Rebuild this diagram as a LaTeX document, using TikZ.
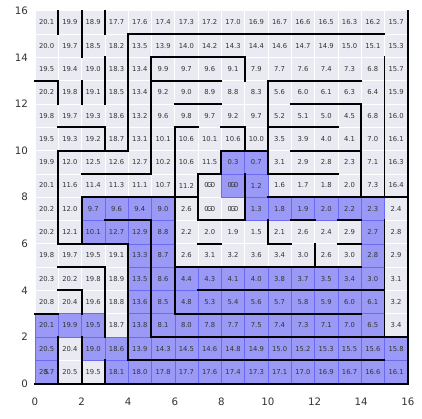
\documentclass[tikz,border=0pt]{standalone}
\usepackage{fontspec}
\setmainfont{DejaVu Sans}
\definecolor{cellgray}{HTML}{EAEAF2}
\definecolor{pathblue}{HTML}{9A9AF6}
\definecolor{pathedge}{HTML}{6A6AF4}
\definecolor{numgray}{HTML}{333333}
\begin{document}
\begin{tikzpicture}[x=1cm,y=1cm,
    cell/.style={draw=white, line width=0.8pt, fill=cellgray},
    pathcell/.style={draw=pathedge, line width=0.5pt, fill=pathblue},
    val/.style={font=\fontsize{8.3}{9}\selectfont, text=numgray, inner sep=0pt},
    wall/.style={line width=2.4pt, line cap=rect},
    ticklab/.style={font=\fontsize{12.5}{14}\selectfont, text=numgray, inner sep=0pt}]
  \useasboundingbox (-1.50,-1.48) rectangle (16.61,16.46);
  % cells
  \foreach \i in {0,...,15}
    \foreach \j in {0,...,15}
      \draw[cell] (\i,\j) rectangle ++(1,1);
  % path
  \foreach \i/\j in {8/9,9/9,8/8,9/8,
      2/7,3/7,4/7,5/7,9/7,10/7,11/7,12/7,13/7,14/7,
      2/6,3/6,4/6,5/6,14/6, 4/5,5/5,14/5,
      4/4,5/4,6/4,7/4,8/4,9/4,10/4,11/4,12/4,13/4,14/4,
      4/3,5/3,6/3,7/3,8/3,9/3,10/3,11/3,12/3,13/3,14/3,
      0/2,1/2,2/2,4/2,5/2,6/2,7/2,8/2,9/2,10/2,11/2,12/2,13/2,14/2,
      0/1,2/1,3/1,4/1,5/1,6/1,7/1,8/1,9/1,10/1,11/1,12/1,13/1,14/1,15/1,
      0/0,3/0,4/0,5/0,6/0,7/0,8/0,9/0,10/0,11/0,12/0,13/0,14/0,15/0}
    \draw[pathcell] (\i,\j) rectangle ++(1,1);
  % values, bottom row first
  \foreach \row [count=\j from 0] in {
      {20.7,20.5,19.5,18.1,18.0,17.8,17.7,17.6,17.4,17.3,17.1,17.0,16.9,16.7,16.6,16.1},
      {20.5,20.4,19.0,18.6,13.9,14.3,14.5,14.6,14.8,14.9,15.0,15.2,15.3,15.5,15.6,15.8},
      {20.1,19.9,19.5,18.7,13.8,8.1,8.0,7.8,7.7,7.5,7.4,7.3,7.1,7.0,6.5,3.4},
      {20.8,20.4,19.6,18.8,13.6,8.5,4.8,5.3,5.4,5.6,5.7,5.8,5.9,6.0,6.1,3.2},
      {20.3,20.2,19.8,18.9,13.5,8.6,4.4,4.3,4.1,4.0,3.8,3.7,3.5,3.4,3.0,3.1},
      {19.8,19.7,19.5,19.1,13.3,8.7,2.6,3.1,3.2,3.6,3.4,3.0,2.6,3.0,2.8,2.9},
      {20.2,12.1,10.1,12.7,12.9,8.8,2.2,2.0,1.9,1.5,2.1,2.6,2.4,2.9,2.7,2.8},
      {20.2,12.0,9.7,9.6,9.4,9.0,2.6,0.0,0.0,1.3,1.8,1.9,2.0,2.2,2.3,2.4},
      {20.1,11.6,11.4,11.3,11.1,10.7,11.2,0.0,0.0,1.2,1.6,1.7,1.8,2.0,7.3,16.4},
      {19.9,12.0,12.5,12.6,12.7,10.2,10.6,11.5,0.3,0.7,3.1,2.9,2.8,2.3,7.1,16.3},
      {19.5,19.3,19.2,18.7,13.1,10.1,10.6,10.1,10.6,10.0,3.5,3.9,4.0,4.1,7.0,16.1},
      {19.8,19.7,19.3,18.6,13.2,9.6,9.8,9.7,9.2,9.7,5.2,5.1,5.0,4.5,6.8,16.0},
      {20.2,19.8,19.1,18.5,13.4,9.2,9.0,8.9,8.8,8.3,5.6,6.0,6.1,6.3,6.4,15.9},
      {19.5,19.4,19.0,18.3,13.4,9.9,9.7,9.6,9.1,7.9,7.7,7.6,7.4,7.3,6.8,15.7},
      {20.0,19.7,18.5,18.2,13.5,13.9,14.0,14.2,14.3,14.4,14.6,14.7,14.9,15.0,15.1,15.3},
      {20.1,19.9,18.9,17.7,17.6,17.4,17.3,17.2,17.0,16.9,16.7,16.6,16.5,16.3,16.2,15.7}}
    \foreach \v [count=\i from 0] in \row
      \node[val] (v-\i-\j) at (\i+0.5,\j+0.5) {\v};
  % start and goal marks
  \node[val] (start) at (0.5,0.5) {S};
  \foreach \i/\j in {7/7,8/7,7/8,8/8}
    \node[val] (goal-\i-\j) at (\i+0.5,\j+0.5) {G};
  % walls: horizontal y/x0/x1
  \foreach \y/\a/\b in {0/0/16, 1/4/15, 2/5/16, 3/0/1, 3/6/14, 4/1/2, 4/7/15,
      5/1/3, 5/6/14, 6/1/4, 6/7/8, 6/10/11, 6/13/14, 7/3/5, 7/7/9, 7/11/12, 7/13/14,
      8/2/6, 8/6/7, 8/10/16, 9/2/5, 9/7/8, 9/10/13, 10/1/4, 10/8/10, 10/11/14,
      11/1/3, 11/6/7, 11/8/9, 11/10/13, 12/6/8, 12/11/14, 13/0/1, 13/5/8, 13/10/14,
      14/5/9, 15/4/15}
    \draw[wall] (\a,\y) -- (\b,\y);
  % walls: vertical x/y0/y1
  \foreach \x/\a/\b in {16/0/16, 1/0/2, 2/0/2, 3/0/1, 2/3/4, 3/2/5, 4/1/6, 5/2/7,
      6/3/11, 2/6/8, 1/6/10, 7/7/9, 9/7/9, 10/6/7, 12/5/6, 15/2/7, 8/9/10,
      10/9/13, 9/10/11, 14/8/12, 15/8/14, 3/10/11, 5/9/14, 4/10/15, 1/12/13,
      2/12/13, 3/12/14, 9/13/14, 1/15/16, 2/14/16, 3/15/16}
    \draw[wall] (\x,\a) -- (\x,\b);
  % axis labels
  \foreach \t in {0,2,...,16} {
    \node[ticklab] (xt-\t) at (\t,-0.78) {\t};
    \node[ticklab, anchor=east] (yt-\t) at (-0.3,\t) {\t};
  }
\end{tikzpicture}
\end{document}
